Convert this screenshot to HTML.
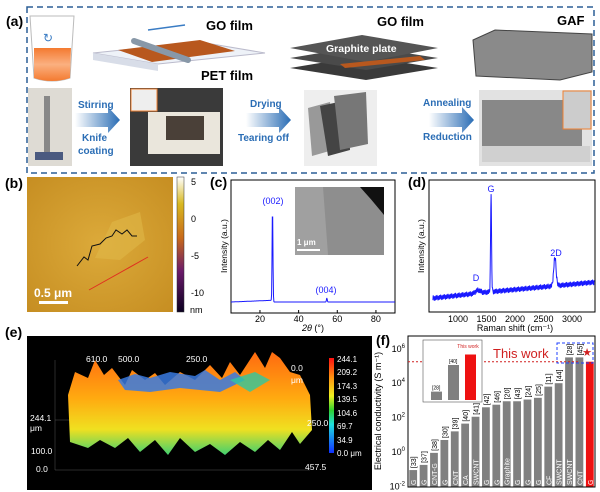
<!DOCTYPE html>
<html><head><meta charset="utf-8"><style>
body{margin:0;background:#fff;}
svg{display:block;font-family:"Liberation Sans",Arial,sans-serif;}
</style></head><body>
<svg id="fig" width="600" height="492" viewBox="0 0 600 492">
<defs>
<linearGradient id="arr" x1="0" x2="1"><stop offset="0" stop-color="#fff"/><stop offset="1" stop-color="#2a6db5"/></linearGradient>
<linearGradient id="cbar" x1="0" y1="1" x2="0" y2="0"><stop offset="0" stop-color="#0a0020"/><stop offset=".3" stop-color="#6a1a6a"/><stop offset=".55" stop-color="#c86a1a"/><stop offset=".8" stop-color="#d8b820"/><stop offset="1" stop-color="#fff"/></linearGradient>
<linearGradient id="jet" x1="0" y1="1" x2="0" y2="0"><stop offset="0" stop-color="#1030ff"/><stop offset=".3" stop-color="#20e0e0"/><stop offset=".45" stop-color="#30d030"/><stop offset=".6" stop-color="#f0f020"/><stop offset=".8" stop-color="#ff9010"/><stop offset="1" stop-color="#ff1010"/></linearGradient>
<radialGradient id="afm" cx=".5" cy=".5" r=".7"><stop offset="0" stop-color="#dcaa3a"/><stop offset="1" stop-color="#c68e22"/></radialGradient>
<linearGradient id="surf" x1="0" y1="0" x2="0" y2="1"><stop offset="0" stop-color="#ff6a10"/><stop offset=".45" stop-color="#ffaa10"/><stop offset=".75" stop-color="#f0e020"/><stop offset="1" stop-color="#40d070"/></linearGradient>
<linearGradient id="beak" x1="0" y1="0" x2="0" y2="1"><stop offset="0" stop-color="#f47a30"/><stop offset=".5" stop-color="#fbb080"/><stop offset="1" stop-color="#f47a30"/></linearGradient>
</defs>

<!-- Panel a -->
<g>
<rect x="27" y="7" width="567" height="166" fill="none" stroke="#2b5f95" stroke-width="1.5" stroke-dasharray="6,4"/>
<text x="6" y="26" font-size="14" font-weight="bold">(a)</text>
<g><path d="M30 16 L34 78 Q52 84 70 78 L74 16 Z" fill="#fff" stroke="#bbb"/><path d="M34 48 L34 78 Q52 84 70 78 L71 48 Z" fill="url(#beak)"/><text x="43" y="42" font-size="12" fill="#3a7cc4">↻</text></g>
<g><path d="M93 53 L200 42 L265 53 L158 64 Z" fill="#eef2f8" stroke="#bbc"/><path d="M93 53 L158 64 L158 71 L93 60 Z" fill="#d8dde8"/><path d="M118 50 L200 40 L235 51 L152 62 Z" fill="#b8581e"/><line x1="134" y1="41" x2="188" y2="60" stroke="#8898a8" stroke-width="6" stroke-linecap="round"/><line x1="185" y1="25" x2="148" y2="30" stroke="#3a7cc4" stroke-width="1.5"/></g>
<text x="206" y="30" font-size="13" font-weight="bold">GO film</text>
<text x="201" y="80" font-size="13" font-weight="bold">PET film</text>
<g><path d="M290 68 L362 56 L438 68 L366 80 Z" fill="#3a3a3a"/><path d="M290 58 L362 46 L438 58 L366 70 Z" fill="#4a4a4a"/><path d="M290 48 L362 35 L438 48 L366 62 Z" fill="#555"/><path d="M340 64 L420 56 L425 60 L345 68 Z" fill="#b8581e"/></g>
<text x="326" y="52" font-size="10.5" font-weight="bold" fill="#fff">Graphite plate</text>
<text x="377" y="26" font-size="13" font-weight="bold">GO film</text>
<text x="557" y="25" font-size="13" font-weight="bold">GAF</text>
<path d="M473 40 L495 30 L592 34 L592 72 L560 80 L476 76 Z" fill="#8a8a8a" stroke="#444"/>
<rect x="28" y="88" width="44" height="78" fill="#dedbd4"/><rect x="44" y="96" width="6" height="60" fill="#888"/><rect x="35" y="152" width="28" height="8" fill="#4a5a80"/>
<rect x="130" y="88" width="93" height="78" fill="#3a3a3a"/><rect x="148" y="112" width="72" height="42" fill="#eae6dc"/><rect x="166" y="116" width="38" height="24" fill="#4a4038"/><rect x="131" y="89" width="26" height="22" fill="#eee" stroke="#f08030"/>
<rect x="304" y="90" width="73" height="76" fill="#eee"/><path d="M308 108 L330 102 L333 150 L312 156 Z" fill="#999"/><path d="M320 106 L348 100 L350 150 L328 156 Z" fill="#444"/><path d="M334 96 L366 92 L368 144 L340 150 Z" fill="#777"/>
<rect x="479" y="90" width="113" height="76" fill="#e2e2e2"/><rect x="482" y="100" width="100" height="46" fill="#888"/><rect x="482" y="146" width="108" height="16" fill="#d0d0d0"/><rect x="563" y="91" width="28" height="38" fill="#ccc" stroke="#f08030"/>
<path d="M75 113 L108 113 L108 107 L120 120 L108 133 L108 127 L75 127 Z" fill="url(#arr)"/>
<text x="78" y="108" font-size="10" font-weight="bold" fill="#2a6db5">Stirring</text>
<text x="82" y="141" font-size="10" font-weight="bold" fill="#2a6db5">Knife</text>
<text x="78" y="154" font-size="10" font-weight="bold" fill="#2a6db5">coating</text>
<path d="M246 113 L279 113 L279 107 L291 120 L279 133 L279 127 L246 127 Z" fill="url(#arr)"/>
<text x="250" y="107" font-size="10" font-weight="bold" fill="#2a6db5">Drying</text>
<text x="238" y="141" font-size="10" font-weight="bold" fill="#2a6db5">Tearing off</text>
<path d="M429 113 L462 113 L462 107 L474 120 L462 133 L462 127 L429 127 Z" fill="url(#arr)"/>
<text x="423" y="106" font-size="10" font-weight="bold" fill="#2a6db5">Annealing</text>
<text x="423" y="140" font-size="10" font-weight="bold" fill="#2a6db5">Reduction</text>
</g>

<!-- Panel b -->
<g>
<text x="5" y="188" font-size="14" font-weight="bold">(b)</text>
<rect x="27" y="177" width="146" height="135" fill="url(#afm)"/>
<path d="M112 222 L140 212 L145 240 L120 260 L95 258 Z" fill="#e0b848" opacity=".6"/>
<path d="M77 266 L84 257 L88 260 L92 246 L100 244 L106 238 L112 236 L116 230 L122 234 L127 230 L132 236 L137 236" fill="none" stroke="#111" stroke-width="1"/>
<line x1="89" y1="290" x2="148" y2="257" stroke="#e03020" stroke-width="1"/>
<text x="34" y="297" font-size="12" font-weight="bold" fill="#fff">0.5 μm</text>
<rect x="39" y="301" width="29" height="3" fill="#fff"/>
<rect x="177" y="177" width="7" height="135" fill="url(#cbar)" stroke="#333" stroke-width=".5"/>
<g font-size="9"><text x="191" y="185">5</text><text x="191" y="222">0</text><text x="191" y="259">-5</text><text x="191" y="296">-10</text><text x="190" y="313">nm</text></g>
</g>

<!-- Panel c -->
<g>
<text x="210" y="187" font-size="14" font-weight="bold">(c)</text>
<rect x="231" y="180" width="164" height="133" fill="none" stroke="#000"/>
<path id="xrd" fill="none" stroke="#1a1aff" stroke-width="1"/>
<g id="xrdTicks" font-size="9"></g>
<text x="227" y="246" font-size="8.5" transform="rotate(-90 227 246)" text-anchor="middle">Intensity (a.u.)</text>
<text x="313" y="331" font-size="9" text-anchor="middle"><tspan font-style="italic">2θ</tspan> (°)</text>
<text x="273" y="204" font-size="9" fill="#1a1aff" text-anchor="middle">(002)</text>
<text x="326" y="293" font-size="9" fill="#1a1aff" text-anchor="middle">(004)</text>
<rect x="295" y="187" width="89" height="68" fill="#a0a0a0"/>
<path d="M323 187 L384 187 L384 255 L328 255 Z" fill="#8e8e8e"/><path d="M360 187 L384 187 L384 215 Q372 200 360 187 Z" fill="#111"/>
<text x="297" y="245" font-size="8" font-weight="bold" fill="#fff">1 μm</text>
<rect x="297" y="249" width="23" height="2" fill="#fff"/>
</g>

<!-- Panel d -->
<g>
<text x="408" y="187" font-size="14" font-weight="bold">(d)</text>
<rect x="429" y="180" width="166" height="132" fill="none" stroke="#000"/>
<path id="raman" fill="none" stroke="#1a1aff" stroke-width="1"/>
<g id="ramanTicks" font-size="9"></g>
<text x="424" y="246" font-size="8.5" transform="rotate(-90 424 246)" text-anchor="middle">Intensity (a.u.)</text>
<text x="515" y="331" font-size="9" text-anchor="middle">Raman shift (cm⁻¹)</text>
<text x="491" y="192" font-size="9" fill="#1a1aff" text-anchor="middle">G</text>
<text x="556" y="256" font-size="9" fill="#1a1aff" text-anchor="middle">2D</text>
<text x="476" y="281" font-size="9" fill="#1a1aff" text-anchor="middle">D</text>
</g>

<!-- Panel e -->
<g>
<text x="5" y="337" font-size="14" font-weight="bold">(e)</text>
<rect x="27" y="336" width="345" height="154" fill="#000"/>
<g stroke="#555" stroke-width=".5" fill="none"><line x1="55" y1="470" x2="310" y2="470"/><line x1="55" y1="360" x2="55" y2="470"/><line x1="55" y1="420" x2="310" y2="420"/></g>
<path d="M68 395 L75 372 L88 378 L95 360 L104 375 L112 368 L125 385 L132 370 L145 380 L155 373 L165 385 L180 372 L195 380 L210 365 L222 378 L230 362 L240 375 L255 352 L265 368 L272 352 L280 358 L290 372 L300 375 L310 395 L312 430 L300 444 L292 432 L280 450 L268 440 L255 452 L240 442 L225 455 L210 444 L195 452 L180 438 L168 455 L155 440 L140 452 L128 438 L115 448 L100 440 L88 448 L70 442 Z" fill="url(#surf)"/>
<path d="M118 380 L135 374 L150 378 L170 372 L195 376 L205 370 L220 380 L235 372 L245 380 L220 392 L180 388 L150 392 L125 390 Z" fill="#3a7ae0" opacity=".85"/>
<path d="M230 380 L255 372 L270 380 L250 392 Z" fill="#30c8a0" opacity=".8"/>
<g font-size="8.5" fill="#fff"><text x="86" y="362">610.0</text><text x="118" y="362">500.0</text><text x="186" y="362">250.0</text><text x="291" y="371">0.0</text><text x="291" y="383">μm</text><text x="30" y="421">244.1</text><text x="30" y="431">μm</text><text x="31" y="454">100.0</text><text x="36" y="472">0.0</text><text x="307" y="426">250.0</text><text x="305" y="470">457.5</text></g>
<rect x="329" y="358" width="5" height="95" fill="url(#jet)"/>
<g font-size="8" fill="#fff"><text x="337" y="362">244.1</text><text x="337" y="375">209.2</text><text x="337" y="389">174.3</text><text x="337" y="402">139.5</text><text x="337" y="416">104.6</text><text x="337" y="429">69.7</text><text x="337" y="443">34.9</text><text x="337" y="456">0.0 μm</text></g>
</g>

<!-- Panel f -->
<g>
<text x="376" y="345" font-size="14" font-weight="bold">(f)</text>
<g id="barsG"></g>
<rect x="408" y="336" width="187" height="151" fill="none" stroke="#000"/>
<g id="yTicksF" font-size="9"></g>
<text x="381" y="411" font-size="9" transform="rotate(-90 381 411)" text-anchor="middle">Electrical conductivity (S m⁻¹)</text>
<line id="thisLine" x1="408" x2="580" stroke="#d02020" stroke-dasharray="2,2"/>
<text x="493" y="358" font-size="13" fill="#d02020">This work</text>
<rect x="557" y="343" width="36" height="20" fill="none" stroke="#2040ff" stroke-dasharray="3,2"/>
<text x="587" y="356" font-size="11" fill="#d02020" text-anchor="middle">★</text>
<rect x="423" y="340" width="59" height="62" fill="#fff" stroke="#555" stroke-width=".6"/>
<g id="insetG"></g>
<text x="468" y="348" font-size="5" fill="#d02020" text-anchor="middle">This work</text>
</g>

<script>
// XRD data
const xrdPeaks=[26.5,54.6];
const xrdHeights=[95,4];
const xrdTicks=[20,40,60,80];
// Raman data
const ramanPeaks=[1350,1580,2700];
const ramanHeights=[3,100,28];
const ramanTicks=[1000,1500,2000,2500,3000];
// Conductivity bar data
const barCats=["G","G","CNT-G","G","CNT","CA","SWCNT","G","G","Graphite","G","G","G","CF","SWCNT","SWCNT","CNT","G"];
const barRefs=["[33]","[37]","[38]","[30]","[39]","[40]","[41]","[42]","[46]","[20]","[43]","[24]","[25]","[11]","[44]","[28]","[45]",""];
const barLog=[-1.05,-0.75,-0.05,0.7,1.2,1.65,2.05,2.6,2.75,2.95,2.95,3.05,3.15,3.8,4.0,5.5,5.5,5.25];
const yTickExp=[-2,0,2,4,6];
const insetVals=[2.6,4.5,5.25];
const insetRefs=["[28]","[40]",""];

const NS="http://www.w3.org/2000/svg";
function mk(tag,attrs,parent){const e=document.createElementNS(NS,tag);for(const k in attrs)e.setAttribute(k,attrs[k]);parent.appendChild(e);return e;}

// XRD
const xX=d=>221.3+d*1.933, xY=v=>302-v;
let p="";for(let d=5;d<=90;d+=0.2){let v=(d<26?(d-5)*0.08:0);xrdPeaks.forEach((c,i)=>{v+=xrdHeights[i]*Math.exp(-Math.pow((d-c)/0.3,2));});p+=(p?"L":"M")+xX(d).toFixed(1)+" "+xY(v).toFixed(1);}
document.getElementById("xrd").setAttribute("d",p);
const xt=document.getElementById("xrdTicks");
xrdTicks.forEach(t=>{const l=mk("line",{x1:xX(t),x2:xX(t),y1:313,y2:310,stroke:"#000"},xt);


const tx=mk("text",{x:xX(t),y:322,"text-anchor":"middle"},xt);tx.textContent=t;

});

// Raman
const rX=w=>458+(w-1000)*0.057, rY=v=>298-v;
let q="";for(let w=560;w<=3390;w+=5){let v=(w<1500?(w-560)/940*6:6+(w-1500)/1890*10);ramanPeaks.forEach((c,i)=>{const wd=i==1?12:(i==2?30:60);v+=ramanHeights[i]*Math.exp(-Math.pow((w-c)/wd,2));});v+=((w*7919)%13)/13*6-3;q+=(q?"L":"M")+rX(w).toFixed(1)+" "+rY(v).toFixed(1);}
document.getElementById("raman").setAttribute("d",q);
const rt=document.getElementById("ramanTicks");
ramanTicks.forEach(t=>{const tx=mk("text",{x:rX(t),y:322,"text-anchor":"middle"},rt);tx.textContent=t;

});

// Bars
const fY=e=>452-e*17.2, slot=187/barCats.length;
const bg=document.getElementById("barsG");
barCats.forEach((c,i)=>{const x=408+i*slot+1.3,w=slot-2.6,y=fY(barLog[i]);
const r=mk("rect",{x:x,y:y,width:w,height:487-y,fill:i==barCats.length-1?"#ee1111":"#808080"},bg);


const cx=x+w/2;
const t=mk("text",{x:cx+3,y:485,"font-size":7,fill:"#fff",transform:"rotate(-90 "+(cx+3)+" 485)"},bg);t.textContent=c;


if(barRefs[i]){const r2=mk("text",{x:cx+3,y:y-2,"font-size":7,transform:"rotate(-90 "+(cx+3)+" "+(y-2)+")"},bg);r2.textContent=barRefs[i];

}});
const ty=fY(barLog[barLog.length-1]);
document.getElementById("thisLine").setAttribute("y1",ty);
document.getElementById("thisLine").setAttribute("y2",ty);
const yt=document.getElementById("yTicksF");
yTickExp.forEach(e=>{const t=mk("text",{x:405,y:fY(e)+3,"text-anchor":"end"},yt);
const a=mk("tspan",{},t);a.textContent="10";
const b=mk("tspan",{dy:"-4","font-size":"6"},t);b.textContent=String(e);

});
const ig=document.getElementById("insetG"), iY=v=>400-(v-2)*14;
insetVals.forEach((v,i)=>{const x=431+i*17,y=iY(v);
const r=mk("rect",{x:x,y:y,width:11,height:400-y,fill:i==2?"#ee1111":"#808080"},ig);


if(insetRefs[i]){const t=mk("text",{x:x+1,y:y-2,"font-size":5},ig);t.textContent=insetRefs[i];

}});
</script>
</svg>
</body></html>
